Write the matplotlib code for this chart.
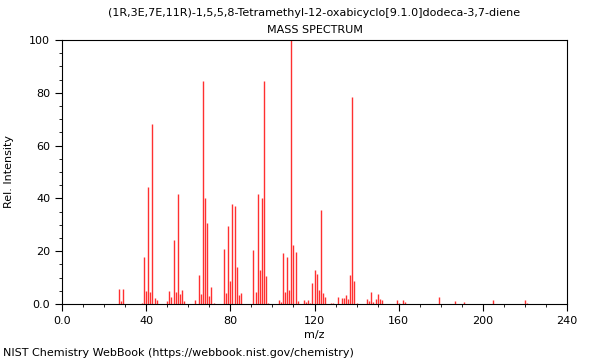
import numpy as np
import matplotlib
matplotlib.use("Agg")
from matplotlib import pyplot as plt
from matplotlib.ticker import MultipleLocator

# m/z values and relative intensities
mz = [27, 28, 29, 38, 39, 40, 41, 42, 43, 44, 45, 50, 51, 52, 53, 54, 55, 56,
      57, 58, 63, 65, 66, 67, 68, 69, 70, 71, 72, 77, 78, 79, 80, 81, 82, 83,
      84, 85, 91, 92, 93, 94, 95, 96, 97, 98, 103, 104, 105, 106, 107, 108,
      109, 110, 111, 112, 115, 116, 117, 118, 119, 120, 121, 122, 123, 124,
      125, 128, 129, 131, 133, 134, 135, 136, 137, 138, 139, 140, 145, 146,
      147, 148, 149, 150, 151, 152, 159, 160, 162, 163, 179, 187, 191, 205,
      220, 221]
intensity = [5.7, 1.0, 5.7, 0.5, 17.8, 4.9, 44.2, 4.5, 68.2, 2.3, 1.5, 1.0,
             4.8, 2.6, 24.2, 4.4, 41.7, 3.7, 5.3, 1.0, 1.5, 11.0, 3.9, 84.5,
             40.0, 30.7, 3.0, 6.3, 0.5, 20.8, 4.2, 29.7, 8.8, 38.0, 37.0, 14.0,
             3.4, 4.3, 20.6, 4.5, 41.5, 12.8, 40.0, 84.3, 10.6, 0.5, 1.5, 0.8,
             19.5, 4.5, 17.8, 5.3, 100.0, 22.3, 19.7, 1.0, 1.5, 0.8, 1.5, 0.5,
             7.8, 13.0, 11.4, 5.3, 35.6, 4.0, 2.8, 0.5, 0.5, 2.6, 2.2, 2.2,
             3.4, 1.8, 11.0, 78.5, 8.7, 0.5, 2.0, 1.0, 4.5, 0.7, 1.9, 3.7, 1.9,
             1.5, 1.5, 0.5, 1.5, 0.8, 2.6, 1.0, 0.6, 1.7, 1.7, 0.3]

title = "(1R,3E,7E,11R)-1,5,5,8-Tetramethyl-12-oxabicyclo[9.1.0]dodeca-3,7-diene"

fig = plt.figure(figsize=(6, 3.6), dpi=100)
ax = fig.add_axes([62/600, 1 - 304/360, 505/600, 264/360])

ax.vlines(mz, 0, intensity, color='#ff3030', lw=1.0)

ax.set_xlim(0, 240)
ax.set_ylim(0, 100)
ax.set_xticks(np.arange(0, 241, 40))
ax.set_xticklabels(["0.0", "40", "80", "120", "160", "200", "240"])
ax.set_yticks(np.arange(0, 101, 20))
ax.set_yticklabels(["0.0", "20", "40", "60", "80", "100"])
ax.xaxis.set_minor_locator(MultipleLocator(10))
ax.yaxis.set_minor_locator(MultipleLocator(5))
ax.tick_params(which='major', length=5, labelsize=8, width=0.8)
ax.tick_params(which='minor', length=2.5, width=0.6)
for s in ax.spines.values():
    s.set_linewidth(0.8)

ax.set_xlabel("m/z", fontsize=8, labelpad=3)
ax.set_ylabel("Rel. Intensity", fontsize=8, labelpad=11)

fig.text(0.5 * (62 + 567) / 600, 1 - 13/360, title, ha='center', va='center', fontsize=8)
fig.text(0.5 * (62 + 567) / 600, 1 - 30/360, "MASS SPECTRUM", ha='center', va='center', fontsize=8)
fig.text(3/600, 1 - 353/360, "NIST Chemistry WebBook (https://webbook.nist.gov/chemistry)",
         ha='left', va='center', fontsize=8)

plt.savefig("out.png", dpi=100)
plt.close()
